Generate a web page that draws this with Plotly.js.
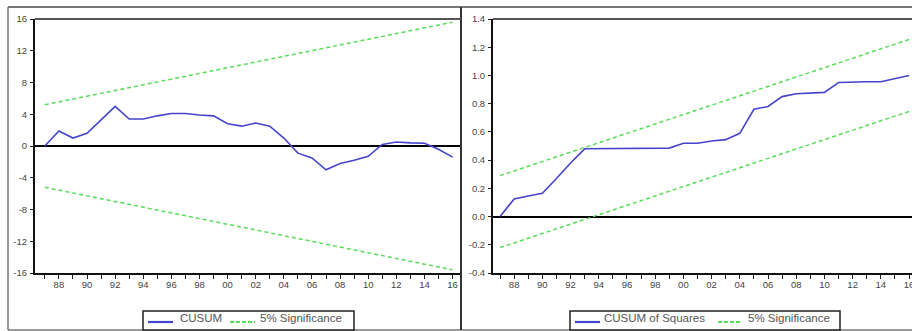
<!DOCTYPE html>
<html>
<head>
<meta charset="utf-8">
<script src="https://cdn.plot.ly/plotly-3.0.1.min.js"></script>
<style>
html,body{margin:0;padding:0;background:#fff;overflow:hidden;}
#chart{width:912px;height:331px;}
</style>
</head>
<body>
<div id="chart"></div>
<script>
// ---- data ----
const years = [1987,1988,1989,1990,1991,1992,1993,1994,1995,1996,1997,1998,1999,2000,2001,2002,2003,2004,2005,2006,2007,2008,2009,2010,2011,2012,2013,2014,2015,2016];
const cusum = [0,1.9,1.0,1.6,3.3,5.0,3.4,3.4,3.8,4.1,4.1,3.9,3.8,2.8,2.5,2.9,2.5,1.0,-0.9,-1.5,-3.0,-2.2,-1.8,-1.3,0.2,0.5,0.4,0.35,-0.4,-1.4];
const cusumSq = [0,0.125,0.145,0.165,0.27,0.38,0.48,0.48,0.485,0.485,0.485,0.485,0.485,0.52,0.52,0.535,0.545,0.59,0.76,0.78,0.85,0.87,0.875,0.88,0.95,0.955,0.955,0.955,0.98,1.0];
const boundYears = [1987, 2016];
const cusumUpper = [5.2, 15.6];
const cusumLower = [-5.2, -15.6];
const sqUpper = [0.29, 1.255];
const sqLower = [-0.22, 0.745];
const xTickVals = [1987,1988,1989,1990,1991,1992,1993,1994,1995,1996,1997,1998,1999,2000,2001,2002,2003,2004,2005,2006,2007,2008,2009,2010,2011,2012,2013,2014,2015,2016];
const xTickText = ["","88","","90","","92","","94","","96","","98","","00","","02","","04","","06","","08","","10","","12","","14","","16"];
const y1Ticks = [-16,-12,-8,-4,0,4,8,12,16];
const y2Ticks = [-0.4,-0.2,0.0,0.2,0.4,0.6,0.8,1.0,1.2,1.4];
const y2Text = ["-0.4","-0.2","0.0","0.2","0.4","0.6","0.8","1.0","1.2","1.4"];
const legend1Names = ["CUSUM", "5% Significance"];
const legend2Names = ["CUSUM of Squares", "5% Significance"];

// ---- helpers ----
const W = 912, H = 331;
const px = v => v / W;
const py = v => 1 - v / H;

const blue = '#4444cc';
const green = '#55dd55';
const tickFont = {family: 'Liberation Sans, Arial, sans-serif', size: 9.5, color: '#444'};
const legFont = {family: 'Liberation Sans, Arial, sans-serif', size: 11.5, color: '#555'};

const traces = [
  {x: years, y: cusum, xaxis: 'x', yaxis: 'y', type: 'scatter', mode: 'lines',
   name: legend1Names[0], line: {color: blue, width: 1.6}},
  {x: boundYears.concat([null], boundYears), y: cusumUpper.concat([null], cusumLower),
   xaxis: 'x', yaxis: 'y', type: 'scatter', mode: 'lines', connectgaps: false,
   name: legend1Names[1], line: {color: green, width: 1.5, dash: '4px,3px'}},
  {x: years, y: cusumSq, xaxis: 'x2', yaxis: 'y2', type: 'scatter', mode: 'lines',
   name: legend2Names[0], line: {color: blue, width: 1.6}},
  {x: boundYears.concat([null], boundYears), y: sqUpper.concat([null], sqLower),
   xaxis: 'x2', yaxis: 'y2', type: 'scatter', mode: 'lines', connectgaps: false,
   name: legend2Names[1], line: {color: green, width: 1.5, dash: '4px,3px'}}
];

const xCommon = {
  tickmode: 'array', tickvals: xTickVals, ticktext: xTickText,
  ticks: 'outside', ticklen: 4, tickcolor: '#222', tickwidth: 1,
  showgrid: false, zeroline: false, showline: true, linecolor: '#111', linewidth: 2,
  tickfont: tickFont, fixedrange: true, ticklabelstandoff: -2, ticklabeloverflow: 'allow'
};
const yCommon = {
  tickmode: 'array', ticks: 'outside', ticklen: 3, tickcolor: '#222',
  showgrid: false, zeroline: true, zerolinecolor: '#000', zerolinewidth: 2,
  showline: true, linecolor: '#111', linewidth: 2, tickfont: tickFont, fixedrange: true,
  ticklabelstandoff: 1, ticklabeloverflow: 'allow'
};

const yTop = py(19), yBot = py(273);

const frameColor = '#777';
const L = (x0, y0, x1, y1, color, width, dash) => ({type: 'line', xref: 'paper', yref: 'paper',
  x0: px(x0), x1: px(x1), y0: py(y0), y1: py(y1), line: {color: color, width: width, dash: dash || 'solid'}});

const shapes = [
  L(8, 7, 912, 7, frameColor, 2),
  L(8, 330, 912, 330, frameColor, 1.5),
  L(8, 7, 8, 330, frameColor, 1.5),
  L(461, 7, 461, 330, '#333', 2),
  L(35, 19, 461, 19, '#555', 2),
  L(493, 19, 912, 19, '#555', 2),
  // legend boxes
  {type: 'rect', xref: 'paper', yref: 'paper', x0: px(143), x1: px(354), y0: py(311), y1: py(330),
   line: {color: '#222', width: 1.5}, fillcolor: '#fff'},
  {type: 'rect', xref: 'paper', yref: 'paper', x0: px(570), x1: px(840), y0: py(311), y1: py(330),
   line: {color: '#222', width: 1.5}, fillcolor: '#fff'},
  // legend samples
  L(148, 322, 173, 322, blue, 2.2),
  L(230, 322, 255, 322, green, 2, '4px,2px'),
  L(575, 322, 600, 322, blue, 2.2),
  L(718, 322, 742, 322, green, 2, '4px,2px')
];

const A = (x, y, text) => ({xref: 'paper', yref: 'paper', x: px(x), y: py(y), xanchor: 'left', yanchor: 'middle',
  text: text, showarrow: false, font: legFont, borderpad: 0});

const annotations = [
  A(179, 318, legend1Names[0]),
  A(259, 318, legend1Names[1]),
  A(603, 318, legend2Names[0]),
  A(747, 318, legend2Names[1])
];

const layout = {
  width: W, height: H,
  margin: {l: 0, r: 0, t: 0, b: 0},
  paper_bgcolor: '#fff', plot_bgcolor: '#fff',
  font: tickFont,
  xaxis: Object.assign({}, xCommon, {domain: [px(35), px(461)], range: [1986.3, 2016.6], anchor: 'y'}),
  yaxis: Object.assign({}, yCommon, {domain: [yBot, yTop], range: [-16, 16], tickvals: y1Ticks, ticktext: y1Ticks.map(String), anchor: 'x'}),
  xaxis2: Object.assign({}, xCommon, {domain: [px(493), 1], range: [1986.5, 2016.21], anchor: 'y2'}),
  yaxis2: Object.assign({}, yCommon, {domain: [yBot, yTop], range: [-0.4, 1.4], tickvals: y2Ticks, ticktext: y2Text, anchor: 'x2'}),
  shapes: shapes,
  annotations: annotations,
  showlegend: false
};

Plotly.newPlot('chart', traces, layout, {displayModeBar: false, staticPlot: true});
</script>
</body>
</html>
